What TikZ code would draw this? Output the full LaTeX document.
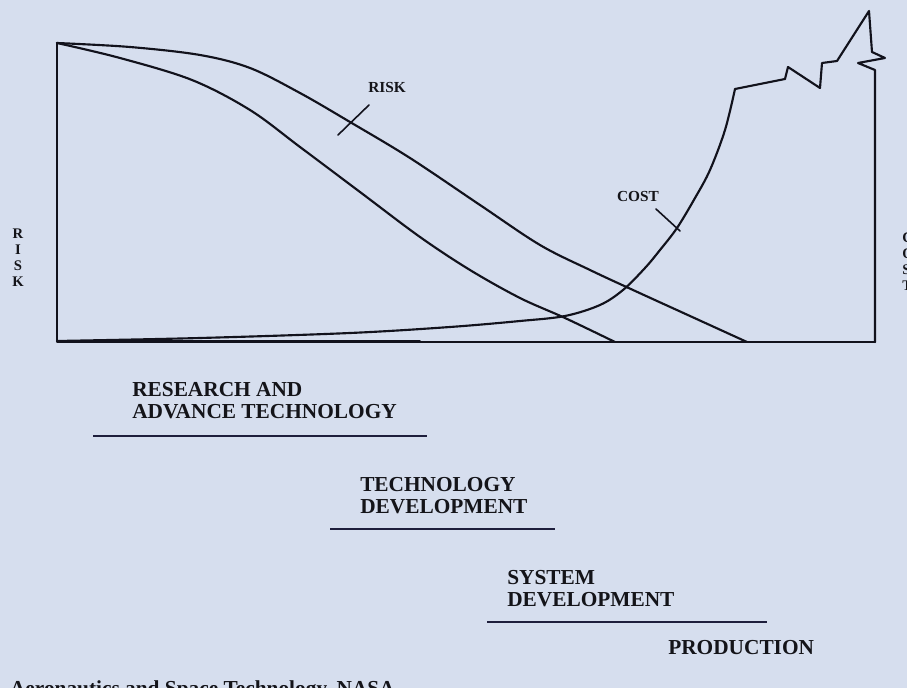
\documentclass[tikz,border=0pt]{standalone}
\usepackage{fontspec}
\setmainfont{Liberation Serif}
\begin{document}
\begin{tikzpicture}[x=0.75pt,y=-0.75pt,
  ink/.style={draw={rgb,255:red,18;green,18;blue,28},line width=1.6pt,line join=round,line cap=round},
  bigtxt/.style={font=\fontsize{16}{16}\selectfont\bfseries,align=left,inner sep=0pt,text={rgb,255:red,20;green,20;blue,25}},
  smalltxt/.style={font=\fontsize{11.5}{12}\selectfont\bfseries,inner sep=0pt,text={rgb,255:red,20;green,20;blue,25}},
  vtxt/.style={font=\fontsize{11}{12}\selectfont\bfseries,align=center,inner sep=0pt,text={rgb,255:red,20;green,20;blue,25}},
  uline/.style={draw={rgb,255:red,30;green,30;blue,60},line width=1.1pt}]
\definecolor{bg}{RGB}{214,222,238}
\fill[bg] (0,0) rectangle (907,688);
\useasboundingbox (0,0) rectangle (907,688);

% axes and cost jagged end
\coordinate (origin) at (57,342);
\coordinate (top) at (57,43);
\coordinate (br) at (875,342);
\draw[ink] (top) -- (origin) -- (br);
\draw[ink,line width=0.8pt] (58,340.3) -- (420,340.3);

% risk curves
\draw[ink] plot[smooth,tension=0.55] coordinates {(57,43) (120,58) (192,80) (250,110) (300,147) (360,192) (420,237) (470,270) (520,298) (565,318) (615,342)};
\draw[ink] plot[smooth,tension=0.55] coordinates {(57,43) (130,47) (200,55) (250,68) (300,93) (350,122) (410,158) (480,205) (540,245) (590,270) (633,290) (690,316) (747,342)};

% cost curve
\draw[ink] plot[smooth,tension=0.55] coordinates {(57,341) (200,338) (350,333) (450,327) (520,321) (565,316) (600,305) (623,290) (645,268) (660,250) (677,228) (695,198) (710,170) (725,130) (735,89)};
\draw[ink] (735,89) -- (785,79) -- (788,67) -- (820,88) -- (822,63) -- (837,61) -- (869,11) -- (872,52) -- (885,58) -- (858,63) -- (875,70) -- (br);

% labels on curves
\node[smalltxt] (risklbl) at (387,88) {RISK};
\coordinate (rt1) at (338,135);
\coordinate (rt2) at (369,105);
\draw[ink,line width=1.2pt] (rt1) -- (rt2);
\node[smalltxt] (costlbl) at (638,196) {COST};
\coordinate (ct1) at (656,209);
\coordinate (ct2) at (680,231);
\draw[ink,line width=1.2pt] (ct1) -- (ct2);

% axis titles
\node[vtxt] (riskax) at (18,258) {R\\I\\S\\K};
\node[vtxt,anchor=west,align=left] (costax) at (902,262) {C\\O\\S\\T};

% phases
\node[bigtxt,anchor=west] (rat) at (132,400.5) {RESEARCH AND\\ADVANCE TECHNOLOGY};
\coordinate (u1a) at (93,436); \coordinate (u1b) at (427,436);
\draw[uline] (u1a) -- (u1b);
\node[bigtxt,anchor=west] (td) at (360,495.5) {TECHNOLOGY\\DEVELOPMENT};
\coordinate (u2a) at (330,529); \coordinate (u2b) at (555,529);
\draw[uline] (u2a) -- (u2b);
\node[bigtxt,anchor=west] (sd) at (507,588.5) {SYSTEM\\DEVELOPMENT};
\coordinate (u3a) at (487,622); \coordinate (u3b) at (767,622);
\draw[uline] (u3a) -- (u3b);
\node[bigtxt,anchor=west] (prod) at (668,648) {PRODUCTION};

% cropped source line
\node[bigtxt,anchor=base east] (src) at (395,695) {Aeronautics and Space Technology, NASA};
\end{tikzpicture}
\end{document}
